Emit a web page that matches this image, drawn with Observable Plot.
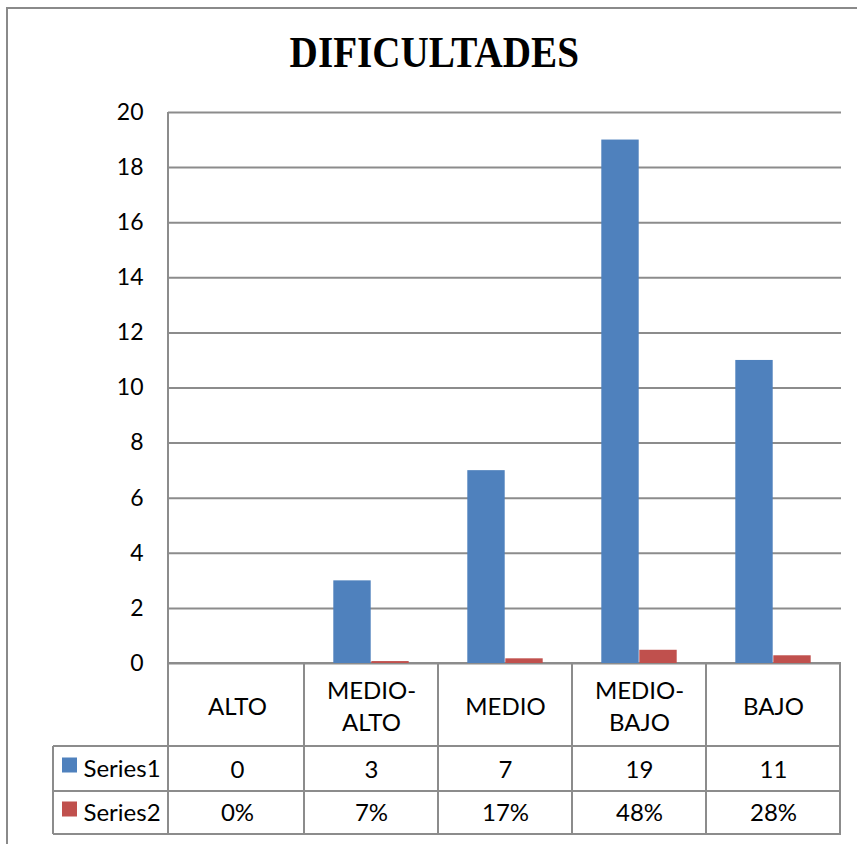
<!DOCTYPE html>
<html>
<head>
<meta charset="utf-8">
<script src="https://cdn.jsdelivr.net/npm/d3@7"></script>
<script src="https://cdn.jsdelivr.net/npm/@observablehq/plot@0.6"></script>
<style>
  body { margin: 0; background: #fff; }
  #wrap { position: relative; width: 857px; height: 844px; overflow: hidden; background: #fff; }
  #border { position: absolute; left: 6px; top: 7px; width: 900px; height: 900px;
            border-left: 2px solid #8a8a8a; border-top: 2px solid #8a8a8a; }
  #title { position: absolute; left: 0; top: 22px; width: 868px; text-align: center;
           font-family: "Liberation Serif", "DejaVu Serif", serif; font-weight: bold;
           font-size: 45px; line-height: 60px; color: #000; }
  #title span { display: inline-block; transform: scaleX(0.87); transform-origin: center; }
  #chart { position: absolute; left: 0; top: 0; }
</style>
</head>
<body>
<div id="wrap">
  <div id="border"></div>
  <div id="title"><span>DIFICULTADES</span></div>
  <div id="chart"></div>
</div>
<script>
// Categories and series
const categories = ["ALTO", "MEDIO-ALTO", "MEDIO", "MEDIO-BAJO", "BAJO"];
const categoryLabels = ["ALTO", "MEDIO-\nALTO", "MEDIO", "MEDIO-\nBAJO", "BAJO"];
const seriesNames = ["Series1", "Series2"];
const series1 = [0, 3, 7, 19, 11];
const series2 = [0, 0.07, 0.17, 0.48, 0.28];
const yTicks = [0, 2, 4, 6, 8, 10, 12, 14, 16, 18, 20];

// Styling
const W = 857, H = 844;
const margin = {top: 112, right: 16, bottom: 181, left: 168};
const colors = {Series1: "#4F81BD", Series2: "#C0504D"};
const lineColor = "#8c8c8c";
const font = "Lato, 'Open Sans', sans-serif";
const barWidth = 38;
const rowHeights = [83, 45, 43];   // category row, Series1 row, Series2 row
const legendLeft = 53;
const legendTextX = 83;
const tableFontSize = 24;

const bandwidth = (W - margin.left - margin.right) / categories.length;
const rows1 = categories.map((c, i) => ({cat: c, value: series1[i]}));
const rows2 = categories.map((c, i) => ({cat: c, value: series2[i]}));
const fmtPct = d3.format(".0%");

const rowCenter0 = rowHeights[0] / 2;
const rowCenter1 = rowHeights[0] + rowHeights[1] / 2;
const rowCenter2 = rowHeights[0] + rowHeights[1] + rowHeights[2] / 2;

// Axis line, grid of the data table under the chart and legend swatches
function dataTable(index, scales, values, dims) {
  const x = scales.x;
  const bw = x.bandwidth ? x.bandwidth() : bandwidth;
  const left = dims.marginLeft, right = dims.width - dims.marginRight;
  const y0 = dims.height - dims.marginBottom;
  const yA = y0 + rowHeights[0], yB = yA + rowHeights[1], yC = yB + rowHeights[2];
  const g = d3.create("svg:g")
    .attr("stroke", lineColor).attr("stroke-width", 2).attr("fill", "none");
  g.append("line").attr("x1", left).attr("x2", left).attr("y1", dims.marginTop).attr("y2", yC);
  g.append("line").attr("x1", left).attr("x2", right).attr("y1", y0).attr("y2", y0);
  for (const yy of [yA, yB, yC]) {
    g.append("line").attr("x1", legendLeft).attr("x2", right).attr("y1", yy).attr("y2", yy);
  }
  for (const c of categories) {
    const xe = x(c) + bw;
    g.append("line").attr("x1", xe).attr("x2", xe).attr("y1", y0).attr("y2", yC);
  }
  g.append("line").attr("x1", legendLeft).attr("x2", legendLeft).attr("y1", yA).attr("y2", yC);
  seriesNames.forEach((s, i) => {
    const cy = y0 + (i === 0 ? rowCenter1 : rowCenter2);
    g.append("rect").attr("x", 62).attr("y", cy - 11).attr("width", 15).attr("height", 15)
      .attr("fill", colors[s]).attr("stroke", "none");
  });
  return g.node();
}

const textStyle = {fontSize: tableFontSize, fill: "#000", lineAnchor: "middle", frameAnchor: "bottom"};

const chart = Plot.plot({
  width: W,
  height: H,
  marginTop: margin.top,
  marginRight: margin.right,
  marginBottom: margin.bottom,
  marginLeft: margin.left,
  style: {fontFamily: font, fontSize: "23px", color: "#000", background: "transparent"},
  x: {type: "band", domain: categories, padding: 0, axis: null},
  y: {domain: [0, 20], ticks: yTicks, tickSize: 0, tickPadding: 25, label: null, tickFormat: d3.format("d")},
  marks: [
    Plot.ruleY(yTicks, {y: d => d, stroke: lineColor, strokeWidth: 2, strokeOpacity: 1}),
    dataTable,
    Plot.barY(rows1, {x: "cat", y: "value", fill: colors.Series1,
      insetLeft: bandwidth / 2 - barWidth, insetRight: bandwidth / 2}),
    Plot.barY(rows2, {x: "cat", y: "value", fill: colors.Series2,
      insetLeft: bandwidth / 2, insetRight: bandwidth / 2 - barWidth}),
    // category labels
    Plot.text(categories, {...textStyle, x: d => d, text: (d, i) => categoryLabels[i],
      dy: rowCenter0, lineHeight: 1.32}),
    // Series1 values
    Plot.text(categories, {...textStyle, x: d => d, text: (d, i) => String(series1[i]),
      dy: rowCenter1 + 1}),
    // Series2 values as percentages
    Plot.text(categories, {...textStyle, x: d => d, text: (d, i) => fmtPct(series2[i]),
      dy: rowCenter2}),
    // legend labels
    Plot.text([seriesNames[0]], {...textStyle, text: d => d, frameAnchor: "bottom-left", textAnchor: "start",
      dx: legendTextX - margin.left, dy: rowCenter1}),
    Plot.text([seriesNames[1]], {...textStyle, text: d => d, frameAnchor: "bottom-left", textAnchor: "start",
      dx: legendTextX - margin.left, dy: rowCenter2})
  ]
});

document.getElementById("chart").append(chart);
</script>
</body>
</html>
